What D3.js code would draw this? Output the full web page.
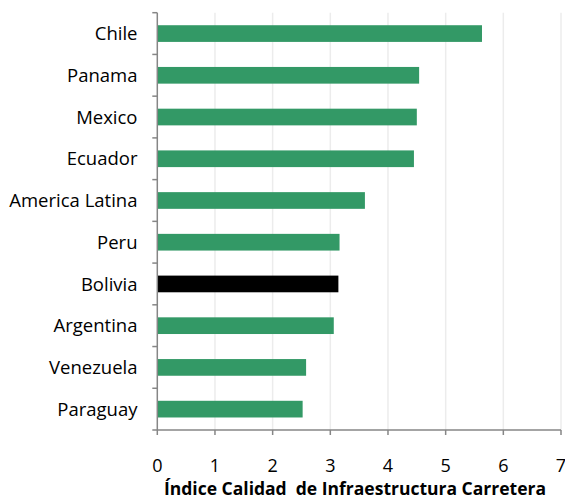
<!DOCTYPE html>
<html><head><meta charset="utf-8">
<script src="https://cdn.jsdelivr.net/npm/d3@7"></script>
<style>body{margin:0;background:#fff}svg{display:block}text{font-family:"Open Sans",Lato,sans-serif}</style>
</head><body><svg id="c" width="565" height="501"></svg>
<script>
const categories = ["Chile","Panama","Mexico","Ecuador","America Latina","Peru","Bolivia","Argentina","Venezuela","Paraguay"];
const values = [5.63,4.54,4.50,4.45,3.60,3.16,3.14,3.06,2.58,2.52];
const highlight = ["Bolivia"];
const xTicks = [0,1,2,3,4,5,6,7];
const xTitle = "Índice Calidad  de Infraestructura Carretera";

const svg = d3.select("#c");
const L = 157.3, R = 561, T = 12.7, B = 430;
const x = d3.scaleLinear().domain([0,7]).range([L,R]);
const y = d3.scaleBand().domain(categories).range([T,B]).paddingInner(0.6).paddingOuter(0.3);
const yb = d3.scaleBand().domain(categories).range([T,B]);
const axisCol = "#868686";

// gridlines
svg.append("g").selectAll("line").data(xTicks.filter(d=>d>0)).join("line")
  .attr("x1",d=>x(d)).attr("x2",d=>x(d)).attr("y1",T).attr("y2",B)
  .attr("stroke","#ececec").attr("stroke-width",1.5);

// bars
svg.append("g").selectAll("rect").data(categories).join("rect")
  .attr("x",x(0)).attr("y",d=>y(d)).attr("height",y.bandwidth())
  .attr("width",(d,i)=>x(values[i])-x(0))
  .attr("fill",d=>highlight.includes(d)?"#000":"#339966");

// y axis
const ya = svg.append("g");
ya.append("line").attr("x1",L).attr("x2",L).attr("y1",T).attr("y2",B).attr("stroke",axisCol).attr("stroke-width",1.5);
const yTickPos = categories.map(c=>yb(c)).concat([B]);
ya.selectAll("line.t").data(yTickPos).join("line").attr("class","t")
  .attr("x1",L-5).attr("x2",L).attr("y1",d=>d).attr("y2",d=>d).attr("stroke",axisCol).attr("stroke-width",1.5);
ya.selectAll("text").data(categories).join("text")
  .attr("x",137.5).attr("y",d=>yb(d)+yb.bandwidth()/2).attr("dy","0.36em")
  .attr("text-anchor","end").attr("font-size",18.5).attr("fill","#000").text(d=>d);

// x axis
const xa = svg.append("g");
xa.append("line").attr("x1",L).attr("x2",R).attr("y1",B).attr("y2",B).attr("stroke",axisCol).attr("stroke-width",1.5);
xa.selectAll("line.t").data(xTicks).join("line").attr("class","t")
  .attr("x1",d=>x(d)).attr("x2",d=>x(d)).attr("y1",B).attr("y2",B+5).attr("stroke",axisCol).attr("stroke-width",1.5);
xa.selectAll("text").data(xTicks).join("text")
  .attr("x",d=>x(d)).attr("y",472).attr("text-anchor","middle").attr("font-size",18).attr("fill","#000").text(d=>d);

svg.append("text").attr("x",355).attr("y",495).attr("text-anchor","middle")
  .attr("font-size",17.5).attr("font-weight","bold").attr("fill","#000")
  .style("white-space","pre").text(xTitle);
</script></body></html>
